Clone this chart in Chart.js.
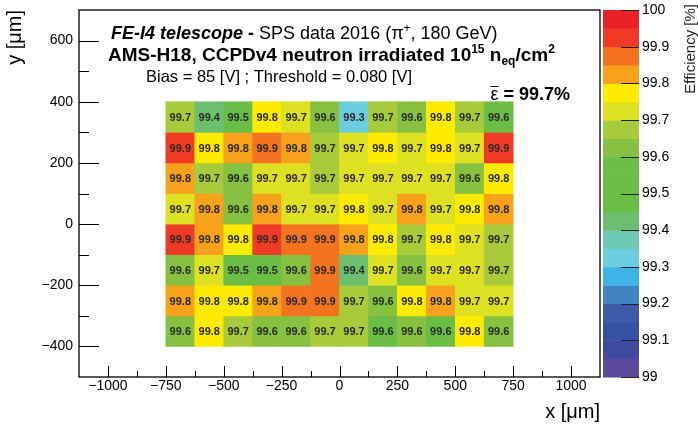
<!DOCTYPE html>
<html lang="en">
<head>
<meta charset="UTF-8" />
<title>FE-I4 telescope efficiency map</title>
<script src="https://cdn.jsdelivr.net/npm/chart.js"></script>
<style>
  body { margin:0; background:#fff; }
  .wrap { width:698px; height:425px; position:relative; }
</style>
</head>
<body>
<div class="wrap"><canvas id="chart"></canvas></div>
<script>
// pixel columns (bin centres, um) and row edges (um, top to bottom)
const xBins = [-687.5, -562.5, -437.5, -312.5, -187.5, -62.5, 62.5, 187.5, 312.5, 437.5, 562.5, 687.5];
const yEdges = [400, 300, 200, 100, 0, -100, -200, -300, -400];

// efficiency [%] per cell, rows from top (y=350) to bottom (y=-350)
const effRow1 = [99.68, 99.43, 99.52, 99.77, 99.72, 99.62, 99.32, 99.67, 99.63, 99.78, 99.68, 99.58];
const effRow2 = [99.92, 99.77, 99.82, 99.87, 99.82, 99.68, 99.72, 99.78, 99.71, 99.77, 99.73, 99.93];
const effRow3 = [99.83, 99.67, 99.62, 99.72, 99.71, 99.68, 99.73, 99.72, 99.71, 99.73, 99.63, 99.77];
const effRow4 = [99.72, 99.82, 99.63, 99.83, 99.71, 99.72, 99.78, 99.73, 99.82, 99.71, 99.77, 99.81];
const effRow5 = [99.92, 99.83, 99.77, 99.93, 99.87, 99.88, 99.82, 99.78, 99.67, 99.76, 99.72, 99.68];
const effRow6 = [99.63, 99.72, 99.52, 99.53, 99.62, 99.87, 99.42, 99.73, 99.62, 99.71, 99.72, 99.68];
const effRow7 = [99.82, 99.78, 99.77, 99.83, 99.88, 99.86, 99.67, 99.62, 99.77, 99.81, 99.72, 99.73];
const effRow8 = [99.62, 99.78, 99.67, 99.63, 99.61, 99.68, 99.69, 99.58, 99.63, 99.57, 99.77, 99.62];
const effRows = [effRow1, effRow2, effRow3, effRow4, effRow5, effRow6, effRow7, effRow8];

// axis ticks
const xMajor = [-1000, -750, -500, -250, 0, 250, 500, 750, 1000];
const xMinor = [-875, -625, -375, -125, 125, 375, 625, 875];
const yMajor = [-400, -200, 0, 200, 400, 600];
const yMinor = [-300, -100, 100, 300, 500];
const zTicks = [99, 99.1, 99.2, 99.3, 99.4, 99.5, 99.6, 99.7, 99.8, 99.9, 100];
const zMin = 99, zMax = 100;

// colour palette, 20 bands from 99 to 100
const palette = ['#5c4b9c','#3f4a9f','#3451a2','#3c5aa8','#3f83c3','#3eb4e6','#6dcde0','#6dc8b4','#6bbf6e','#6abd45',
                 '#6abd45','#6abd45','#86c142','#a7cb3a','#dde122','#ffeb00','#f8a11b','#f37321','#ef3b25','#ec2127'];
function colorFor(v){
  let i = Math.floor((v - zMin) / (zMax - zMin) * palette.length + 1e-9);
  return palette[Math.max(0, Math.min(palette.length - 1, i))];
}

const FONT = '"Liberation Sans", Arial, Helvetica, sans-serif';
const minus = v => v < 0 ? '\u2212' + Math.abs(v) : String(v);
const noPad = s => { s.paddingLeft = 0; s.paddingRight = 0; s.paddingTop = 0; s.paddingBottom = 0; };

const datasets = effRows.map((row, r) => ({
  data: xBins.map((x, c) => ({ x: x, y: [yEdges[r + 1], yEdges[r]], v: row[c] })),
  backgroundColor: row.map(colorFor),
  borderWidth: 0,
  grouped: false,
  barPercentage: 1,
  categoryPercentage: 1,
  yAxisID: 'y'
}));

// frame + inward ticks like ROOT
const frameTicks = {
  id: 'frameTicks',
  afterDraw(chart){
    const {ctx, chartArea:a, scales} = chart;
    ctx.save();
    ctx.strokeStyle = '#000';
    ctx.lineWidth = 1;
    ctx.beginPath();
    xMajor.forEach(v => { const p = Math.round(scales.x.getPixelForValue(v)) + 0.5; ctx.moveTo(p, a.bottom); ctx.lineTo(p, a.bottom - 11); });
    xMinor.forEach(v => { const p = Math.round(scales.x.getPixelForValue(v)) + 0.5; ctx.moveTo(p, a.bottom); ctx.lineTo(p, a.bottom - 6); });
    yMajor.forEach(v => { const p = Math.round(scales.y.getPixelForValue(v)) + 0.5; ctx.moveTo(a.left, p); ctx.lineTo(a.left + 20, p); });
    yMinor.forEach(v => { const p = Math.round(scales.y.getPixelForValue(v)) + 0.5; ctx.moveTo(a.left, p); ctx.lineTo(a.left + 10, p); });
    ctx.stroke();
    ctx.lineWidth = 1.3;
    ctx.strokeRect(a.left, a.top, a.right - a.left, a.bottom - a.top);
    ctx.restore();
  }
};

// colour bar on the z scale
const colorBar = {
  id: 'colorBar',
  afterDraw(chart){
    const {ctx, chartArea:a} = chart;
    const z = chart.scales.z;
    const x0 = a.right + 3, x1 = a.right + 39;
    ctx.save();
    palette.forEach((col, i) => {
      const lo = zMin + i * (zMax - zMin) / palette.length;
      const hi = zMin + (i + 1) * (zMax - zMin) / palette.length;
      const pTop = z.getPixelForValue(hi), pBot = z.getPixelForValue(lo);
      ctx.fillStyle = col;
      ctx.fillRect(x0, pTop, x1 - x0, pBot - pTop + 0.5);
    });
    ctx.strokeStyle = '#222';
    ctx.lineWidth = 1;
    ctx.beginPath();
    zTicks.forEach(v => { const p = Math.round(z.getPixelForValue(v)) + 0.5; ctx.moveTo(x1, p); ctx.lineTo(x1 - 18, p); });
    ctx.stroke();
    // z title
    ctx.fillStyle = '#222';
    ctx.font = '15px ' + FONT;
    ctx.translate(691, 4);
    ctx.rotate(-Math.PI / 2);
    ctx.textAlign = 'right';
    ctx.textBaseline = 'middle';
    ctx.fillText('Efficiency [%]', 0, 0);
    ctx.restore();
  }
};

// numbers in the cells
const cellLabels = {
  id: 'cellLabels',
  afterDatasetsDraw(chart){
    const ctx = chart.ctx;
    ctx.save();
    ctx.font = 'bold 11px ' + FONT;
    ctx.fillStyle = '#2a2a2a';
    ctx.textAlign = 'center';
    ctx.textBaseline = 'middle';
    chart.data.datasets.forEach((ds, i) => {
      chart.getDatasetMeta(i).data.forEach((el, j) => {
        const c = el.getCenterPoint();
        ctx.fillText(ds.data[j].v.toFixed(1), c.x, c.y + 1);
      });
    });
    ctx.restore();
  }
};

function drawRuns(ctx, x, y, runs){
  runs.forEach(r => {
    ctx.font = r.font;
    ctx.fillText(r.t, x, y + (r.dy || 0));
    x += ctx.measureText(r.t).width;
  });
  return x;
}

// TLatex style annotations
const annotations = {
  id: 'annotations',
  afterDraw(chart){
    const ctx = chart.ctx;
    ctx.save();
    ctx.fillStyle = '#000';
    ctx.textBaseline = 'alphabetic';
    const B = 'bold 19px ' + FONT, BS = 'bold 12px ' + FONT;
    drawRuns(ctx, 111, 39, [
      {t:'FE-I4 telescope -', font:'italic bold 18px ' + FONT},
      {t:' SPS data 2016 (\u03c0', font:'18px ' + FONT},
      {t:'+', font:'12px ' + FONT, dy:-7},
      {t:', 180 GeV)', font:'18px ' + FONT}
    ]);
    drawRuns(ctx, 108, 61, [
      {t:'AMS-H18, CCPDv4 neutron irradiated 10', font:B},
      {t:'15', font:BS, dy:-8},
      {t:' n', font:B},
      {t:'eq', font:BS, dy:4},
      {t:'/cm', font:B},
      {t:'2', font:BS, dy:-8}
    ]);
    drawRuns(ctx, 146, 82, [{t:'Bias = 85 [V] ; Threshold = 0.080 [V]', font:'16.5px ' + FONT}]);
    // mean efficiency with bar over epsilon
    ctx.font = 'bold 18px ' + FONT;
    const rest = ' = 99.7%';
    const wRest = ctx.measureText(rest).width;
    ctx.font = '18px ' + FONT;
    const wEps = ctx.measureText('\u03b5').width;
    const xe = 570 - wRest - wEps;
    drawRuns(ctx, xe, 100, [{t:'\u03b5', font:'18px ' + FONT}, {t:rest, font:'bold 18px ' + FONT}]);
    ctx.lineWidth = 1;
    ctx.beginPath();
    ctx.moveTo(xe, 86.5); ctx.lineTo(xe + wEps, 86.5);
    ctx.stroke();
    ctx.restore();
  }
};

new Chart(document.getElementById('chart'), {
  type: 'bar',
  data: { datasets: datasets },
  options: {
    responsive: true,
    maintainAspectRatio: false,
    animation: false,
    layout: { padding: { top: 10, left: 0, right: 0, bottom: 0 } },
    plugins: { legend: { display: false }, tooltip: { enabled: false } },
    scales: {
      x: {
        type: 'linear', min: -1000, max: 1000,
        grid: { display: false, drawTicks: false }, border: { display: false },
        afterBuildTicks: s => { s.ticks = xMajor.map(v => ({ value: v })); },
        afterFit: s => { s.height = 48; noPad(s); },
        ticks: { color: '#000', font: { family: FONT, size: 14 }, padding: 1, maxRotation: 0, callback: minus },
        title: { display: true, text: 'x [\u03bcm]', align: 'end', color: '#000',
                 font: { family: FONT, size: 20 }, padding: { top: 0, bottom: 1 } }
      },
      y: {
        type: 'linear', min: -500, max: 700, position: 'left',
        grid: { display: false, drawTicks: false }, border: { display: false },
        afterBuildTicks: s => { s.ticks = yMajor.map(v => ({ value: v })); },
        afterFit: s => { s.width = 79; noPad(s); },
        ticks: { color: '#000', font: { family: FONT, size: 14 }, padding: 6, callback: minus },
        title: { display: true, text: 'y [\u03bcm]', align: 'end', color: '#000',
                 font: { family: FONT, size: 20 }, padding: { top: 3, bottom: 0 } }
      },
      z: {
        type: 'linear', axis: 'y', min: zMin, max: zMax, position: 'right',
        grid: { display: false, drawTicks: false }, border: { display: false },
        afterBuildTicks: s => { s.ticks = zTicks.map(v => ({ value: v })); },
        afterFit: s => { s.width = 98; noPad(s); },
        ticks: { color: '#000', font: { family: FONT, size: 14 }, padding: 42,
                 callback: v => (v === 100 || v === 99) ? String(v) : v.toFixed(1) }
      }
    }
  },
  plugins: [cellLabels, frameTicks, colorBar, annotations]
});
</script>
</body>
</html>
